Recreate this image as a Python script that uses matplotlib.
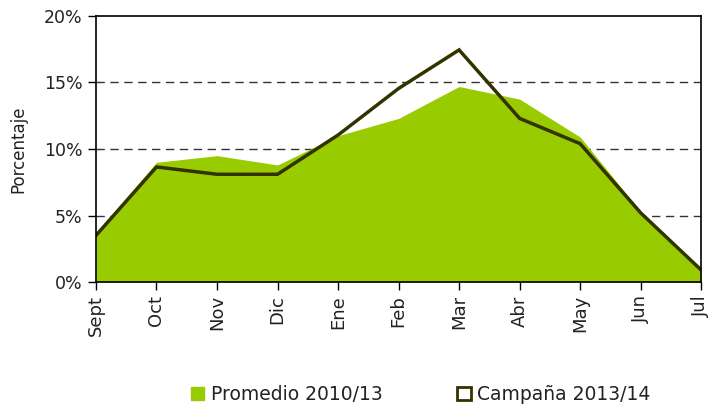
import matplotlib.pyplot as plt
from matplotlib.patches import Patch
from matplotlib.ticker import FixedLocator, PercentFormatter

# Data (percent)
months = ['Sept', 'Oct', 'Nov', 'Dic', 'Ene', 'Feb', 'Mar', 'Abr', 'May', 'Jun', 'Jul']
promedio = [3.7, 9.0, 9.5, 8.8, 11.0, 12.3, 14.7, 13.75, 10.9, 5.3, 0.8]
campana = [3.5, 8.65, 8.1, 8.1, 11.05, 14.55, 17.45, 12.3, 10.4, 5.2, 0.9]

GREEN = '#99CC00'
DARK = '#333300'

plt.rcParams['font.family'] = ['DejaVu Sans']

fig = plt.figure(figsize=(7.12, 4.09), dpi=100)
ax = fig.add_axes([0.1348, 0.3105, 0.85, 0.6504])

x = list(range(len(months)))
ax.fill_between(x, promedio, 0, color=GREEN, linewidth=0, zorder=2)
ax.plot(x, campana, color=DARK, linewidth=2.5, zorder=3, solid_joinstyle='miter')

ax.set_xlim(0, len(months) - 1)
ax.set_ylim(0, 20)
ax.set_yticks([0, 5, 10, 15, 20])
ax.yaxis.set_major_formatter(PercentFormatter(decimals=0))
ax.set_xticks(x)
ax.set_xticklabels(months, rotation=90, fontsize=13, color='#222222')
ax.xaxis.set_minor_locator(FixedLocator([i + 0.5 for i in x[:-1]]))
ax.tick_params(axis='x', which='major', direction='out', length=6, width=1)
ax.tick_params(axis='x', which='minor', direction='in', length=5, width=1)
ax.tick_params(axis='y', direction='out', length=6, width=1, labelsize=12.5,
               labelcolor='#222222')

for y in [5, 10, 15]:
    ax.axhline(y, color='#333333', linestyle=(0, (6, 4)), linewidth=1, zorder=1)

for s in ax.spines.values():
    s.set_color('black')
    s.set_linewidth(1.2)
    s.set_zorder(4)

ax.set_ylabel('Porcentaje', fontsize=12, labelpad=12, color='#222222')

handles = [Patch(facecolor=GREEN, edgecolor=GREEN, label='Promedio 2010/13'),
           Patch(facecolor='white', edgecolor=DARK, linewidth=2, label='Campaña 2013/14')]
fig.legend(handles=handles, loc='center', bbox_to_anchor=(0.591, 0.035), ncol=2,
           frameon=False, fontsize=13.5, handlelength=0.7, handleheight=0.7,
           handletextpad=0.35, columnspacing=4.0, labelcolor='#222222')

fig.savefig('out.png', dpi=100)
